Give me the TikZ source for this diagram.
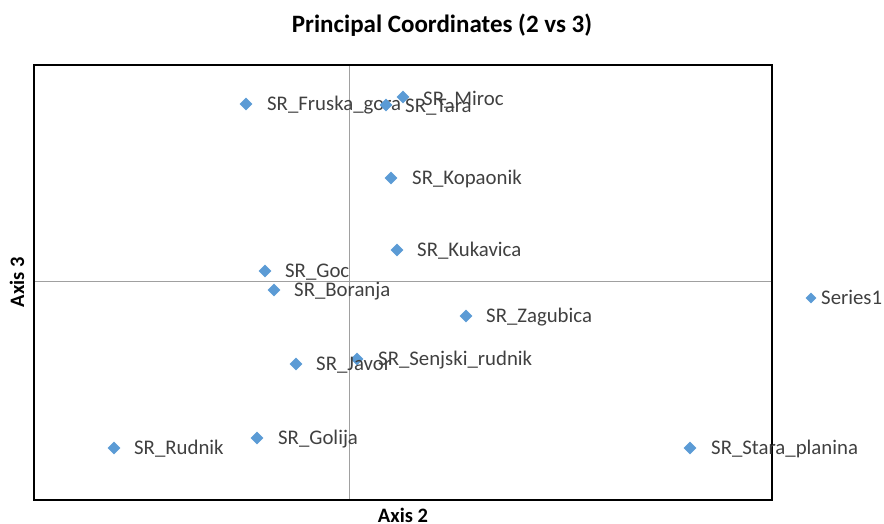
\documentclass[tikz,border=0pt]{standalone}
\usepackage{fontspec}
\setmainfont{Carlito}
\usetikzlibrary{shapes.geometric}
\definecolor{mk}{HTML}{5B9BD5}
\definecolor{gl}{HTML}{A0A0A0}
\definecolor{tx}{HTML}{404040}
\tikzset{
  pt/.style={diamond, fill=mk, draw=none, minimum width=13pt, minimum height=13pt, inner sep=0pt},
  lab/.style={anchor=west, inner sep=0pt, font=\fontsize{20.8}{24}\selectfont, text=tx, text height=14pt, text depth=4.5pt},
  ttl/.style={font=\bfseries\fontsize{25}{29}\selectfont, inner sep=0pt},
  axl/.style={font=\bfseries\fontsize{20.5}{24}\selectfont, inner sep=0pt}
}
\begin{document}
\begin{tikzpicture}[x=1pt,y=-1pt]
\useasboundingbox (0,0) rectangle (884,524);
% plot area
\coordinate (bl) at (34,500);
\coordinate (tr) at (772,65);
\coordinate (vt) at (349,65);
\coordinate (vb) at (349,500);
\coordinate (hl) at (34,281);
\coordinate (hr) at (772,281);
\draw[gl, line width=1pt] (vt) -- (vb);
\draw[gl, line width=1pt] (hl) -- (hr);
\draw[black, line width=1.6pt] (bl) rectangle (tr);
% title and axis labels
\node[ttl] (title) at (442,25) {Principal Coordinates (2 vs 3)};
\node[axl] (ax2) at (403,515) {Axis 2};
\node[axl, rotate=90] (ax3) at (17,282) {Axis 3};
% points
\node[pt] (p1) at (246,104) {};
\node[lab] (l1) at (267,106) {SR\_Fruska\_gora};
\node[pt] (p2) at (386,105) {};
\node[pt] (p3) at (403,97) {};
\node[lab] (l2) at (405,108) {SR\_Tara};
\node[lab] (l3) at (423,101) {SR\_Miroc};
\node[pt] (p4) at (391,178) {};
\node[lab] (l4) at (412,180) {SR\_Kopaonik};
\node[pt] (p5) at (397,250) {};
\node[lab] (l5) at (417,252) {SR\_Kukavica};
\node[pt] (p6) at (265,271) {};
\node[lab] (l6) at (285,273) {SR\_Goc};
\node[pt] (p7) at (274,290) {};
\node[lab] (l7) at (294,292) {SR\_Boranja};
\node[pt] (p8) at (466,316) {};
\node[lab] (l8) at (486,318) {SR\_Zagubica};
\node[pt] (p9) at (357,359) {};
\node[lab] (l9) at (378,361) {SR\_Senjski\_rudnik};
\node[pt] (p10) at (296,364) {};
\node[lab] (l10) at (316,366) {SR\_Javor};
\node[pt] (p11) at (114,448) {};
\node[lab] (l11) at (134,450) {SR\_Rudnik};
\node[pt] (p12) at (257,438) {};
\node[lab] (l12) at (278,440) {SR\_Golija};
\node[pt] (p13) at (690,448) {};
\node[lab] (l13) at (711,450) {SR\_Stara\_planina};
% legend
\node[pt, minimum width=11pt, minimum height=11pt] (lg) at (811,298) {};
\node[lab, anchor=west] (lgt) at (821,300) {Series1};
\end{tikzpicture}
\end{document}
